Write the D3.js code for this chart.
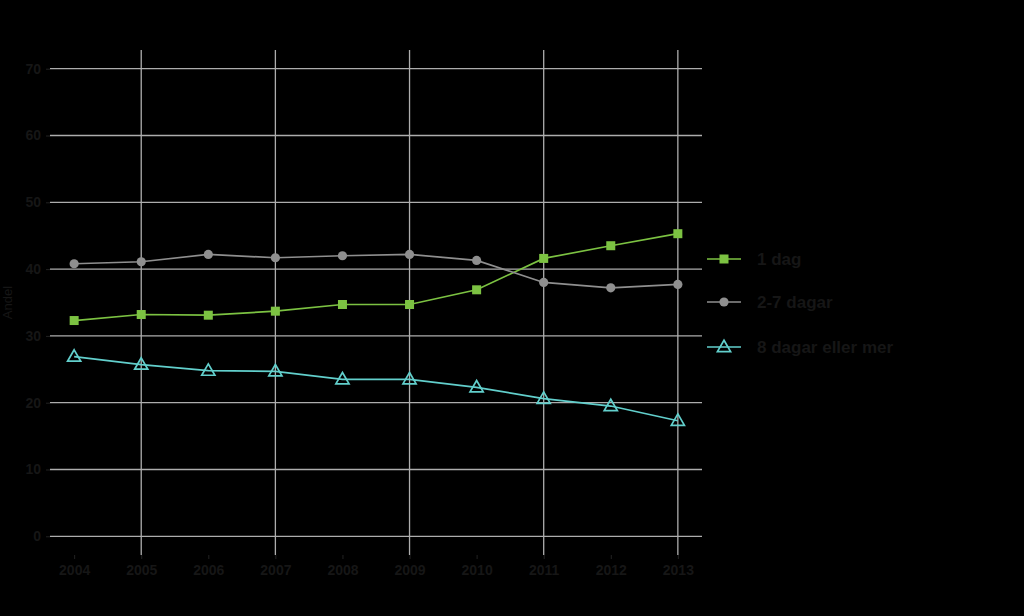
<!DOCTYPE html>
<html>
<head>
<meta charset="utf-8">
<script src="https://cdn.jsdelivr.net/npm/d3@7"></script>
<style>
  html, body { margin: 0; padding: 0; background: #000; }
  svg { display: block; }
  text { font-family: "Liberation Sans", Arial, sans-serif; fill: #161616; }
</style>
</head>
<body>
<div id="chart"></div>
<script>
// data
const years = [2004, 2005, 2006, 2007, 2008, 2009, 2010, 2011, 2012, 2013];
const oneDay = [32.3, 33.2, 33.1, 33.7, 34.7, 34.7, 36.9, 41.6, 43.5, 45.3];
const twoToSeven = [40.8, 41.1, 42.2, 41.7, 42.0, 42.2, 41.3, 38.0, 37.2, 37.7];
const eightPlus = [26.9, 25.7, 24.8, 24.7, 23.5, 23.5, 22.3, 20.6, 19.5, 17.3];
const seriesNames = ['1 dag', '2-7 dagar', '8 dagar eller mer'];
const yTicks = [0, 10, 20, 30, 40, 50, 60, 70];
const xGridYears = [2005, 2007, 2009, 2011, 2013];
const yLabel = 'Andel';

const width = 1024, height = 616;
const panel = {left: 50, right: 702, top: 50, bottom: 555};

const svg = d3.select('#chart').append('svg')
    .attr('width', width)
    .attr('height', height);

svg.append('rect').attr('width', width).attr('height', height).attr('fill', '#000');

// ggplot-like expansion on both axes
const x = d3.scaleLinear()
    .domain([2004 - 0.36, 2013 + 0.36])
    .range([panel.left, panel.right]);
const y = d3.scaleLinear()
    .domain([-2.8, 72.8])
    .range([panel.bottom, panel.top]);

// grid
const grid = svg.append('g').attr('stroke', '#adadad').attr('stroke-width', 1.3);
grid.selectAll('line.h')
    .data(yTicks)
  .enter().append('line')
    .attr('class', 'h')
    .attr('x1', panel.left).attr('x2', panel.right)
    .attr('y1', d => y(d)).attr('y2', d => y(d));
grid.selectAll('line.v')
    .data(xGridYears)
  .enter().append('line')
    .attr('class', 'v')
    .attr('x1', d => x(d)).attr('x2', d => x(d))
    .attr('y1', panel.top).attr('y2', panel.bottom);

// axes
const yAxis = d3.axisLeft(y).tickValues(yTicks).tickSize(4).tickPadding(5);
const gy = svg.append('g')
    .attr('transform', `translate(${panel.left},0)`)
    .call(yAxis);
gy.select('.domain').remove();
gy.selectAll('.tick line').attr('stroke', '#222');
gy.selectAll('.tick text').style('font-size', '14px').style('font-weight', 'bold').attr('fill', '#161616');

const xAxis = d3.axisBottom(x).tickValues(years).tickFormat(d3.format('d')).tickSize(4).tickPadding(6);
const gx = svg.append('g')
    .attr('transform', `translate(0,${panel.bottom})`)
    .call(xAxis);
gx.select('.domain').remove();
gx.selectAll('.tick line').attr('stroke', '#222');
gx.selectAll('.tick text').style('font-size', '14px').style('font-weight', 'bold').attr('fill', '#161616');

svg.append('text')
    .attr('transform', `translate(12,${(panel.top + panel.bottom) / 2}) rotate(-90)`)
    .attr('text-anchor', 'middle')
    .style('font-size', '13px')
    .text(yLabel);

const series = [
    {name: seriesNames[0], values: oneDay, color: '#7cc242', shape: 'square'},
    {name: seriesNames[1], values: twoToSeven, color: '#8f8f8f', shape: 'circle'},
    {name: seriesNames[2], values: eightPlus, color: '#62cfcc', shape: 'triangle'}
];

const line = d3.line()
    .x((d, i) => x(years[i]))
    .y(d => y(d));

function drawMarker(g, shape, color) {
    if (shape === 'square') {
        g.append('rect').attr('x', -4.5).attr('y', -4.5).attr('width', 9).attr('height', 9)
            .attr('fill', color);
    } else if (shape === 'circle') {
        g.append('circle').attr('r', 4.6).attr('fill', color);
    } else {
        g.append('path')
            .attr('d', d3.symbol().type(d3.symbolTriangle).size(75)())
            .attr('transform', 'translate(0,0.8)')
            .attr('fill', 'none').attr('stroke', color).attr('stroke-width', 1.7);
    }
}

series.forEach(s => {
    svg.append('path')
        .datum(s.values)
        .attr('fill', 'none')
        .attr('stroke', s.color)
        .attr('stroke-width', 1.7)
        .attr('d', line);
    svg.append('g').selectAll('g')
        .data(s.values)
      .enter().append('g')
        .attr('transform', (d, i) => `translate(${x(years[i])},${y(d)})`)
        .each(function() { drawMarker(d3.select(this), s.shape, s.color); });
});

// legend
const legendY = [259, 302, 347];
const legend = svg.append('g');
series.forEach((s, i) => {
    const row = legend.append('g').attr('transform', `translate(707,${legendY[i]})`);
    row.append('line').attr('x1', 0).attr('x2', 34).attr('y1', 0).attr('y2', 0)
        .attr('stroke', s.color).attr('stroke-width', 1.7);
    drawMarker(row.append('g').attr('transform', 'translate(17,0)'), s.shape, s.color);
    row.append('text')
        .attr('x', 50).attr('y', 6)
        .style('font-size', '17px')
        .style('font-weight', 'bold')
        .text(s.name);
});
</script>
</body>
</html>
